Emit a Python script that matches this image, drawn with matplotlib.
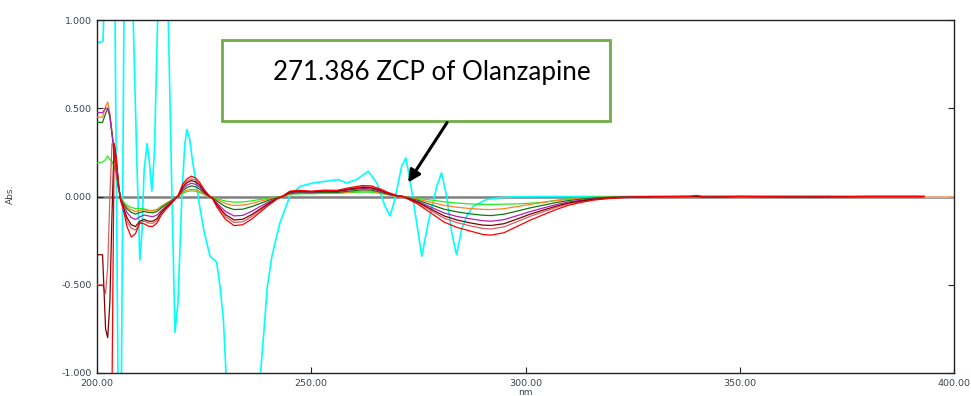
import matplotlib
matplotlib.use("Agg")
import matplotlib.pyplot as plt
from matplotlib.patches import Rectangle

# Shared wavelength grid (nm) for the first-derivative spectra
wavelength = [200, 201.3, 202, 202.5, 203, 203.5, 204, 204.5, 205, 205.5,
              206, 207, 208, 209, 210, 211, 212, 213, 214, 215,
              216, 217, 218, 219, 220, 221, 222, 223, 224, 225,
              226, 227, 228, 230, 232, 234, 236, 238, 240, 242,
              243.5, 245, 247, 250, 253, 256, 259, 262, 264, 266,
              268, 270, 271.4, 273, 275, 278, 281, 284, 287, 290,
              292, 295, 298, 301, 304, 307, 310, 313, 316, 320,
              325, 330, 338, 340, 342, 350, 365, 380, 393]

abs_green = [0.19, 0.195, 0.21, 0.23, 0.21, 0.2, 0.17, 0.12, 0.05, 0.0,
             -0.025, -0.05, -0.062, -0.068, -0.068, -0.07, -0.078, -0.08, -0.072, -0.055,
             -0.04, -0.026, -0.01, 0.003, 0.018, 0.028, 0.032, 0.03, 0.022, 0.011,
             0.002, -0.004, -0.013, -0.026, -0.032, -0.031, -0.025, -0.017, -0.01, -0.003,
             0.001, 0.013, 0.015, 0.016, 0.018, 0.018, 0.022, 0.025, 0.024, 0.018,
             0.009, 0.002, 0.0, -0.006, -0.012, -0.02, -0.03, -0.037, -0.042, -0.045,
             -0.045, -0.043, -0.042, -0.038, -0.033, -0.022, -0.013, -0.006, -0.003, -0.001,
             0.0, 0.0, 0.0, 0.0, 0.0, 0.0, 0.0, 0.0, 0.0]

abs_orange = [0.45, 0.45, 0.51, 0.535, 0.47, 0.37, 0.26, 0.15, 0.05, -0.01,
              -0.03, -0.06, -0.075, -0.085, -0.078, -0.075, -0.08, -0.082, -0.075, -0.058,
              -0.042, -0.028, -0.011, 0.003, 0.023, 0.036, 0.04, 0.037, 0.028, 0.014,
              0.003, -0.005, -0.018, -0.04, -0.051, -0.049, -0.04, -0.027, -0.015, -0.005,
              0.001, 0.015, 0.018, 0.018, 0.02, 0.02, 0.026, 0.031, 0.03, 0.022,
              0.011, 0.002, 0.0, -0.007, -0.016, -0.033, -0.05, -0.061, -0.068, -0.073,
              -0.074, -0.069, -0.057, -0.045, -0.034, -0.024, -0.016, -0.01, -0.006, -0.003,
              -0.001, 0.0, 0.0, 0.0, 0.0, 0.0, 0.0, 0.0, 0.0]
orange_tail_nm = [393, 400]
orange_tail = [0.0, 0.0]

abs_darkgreen = [0.42, 0.42, 0.47, 0.50, 0.46, 0.36, 0.25, 0.15, 0.05, -0.01,
                 -0.035, -0.07, -0.09, -0.10, -0.09, -0.085, -0.09, -0.092, -0.085, -0.065,
                 -0.048, -0.032, -0.013, 0.004, 0.032, 0.051, 0.06, 0.055, 0.04, 0.02,
                 0.004, -0.007, -0.026, -0.058, -0.074, -0.072, -0.058, -0.04, -0.022, -0.007,
                 0.002, 0.018, 0.022, 0.021, 0.024, 0.023, 0.031, 0.038, 0.036, 0.026,
                 0.013, 0.003, 0.0, -0.01, -0.022, -0.047, -0.072, -0.087, -0.098, -0.106,
                 -0.108, -0.1, -0.083, -0.065, -0.05, -0.035, -0.023, -0.015, -0.009, -0.004,
                 -0.002, 0.0, 0.0, 0.0, 0.0, 0.0, 0.0, 0.0, 0.0]

abs_magenta = [0.475, 0.475, 0.50, 0.50, 0.45, 0.35, 0.24, 0.15, 0.05, -0.01,
               -0.04, -0.09, -0.12, -0.13, -0.115, -0.105, -0.11, -0.115, -0.105, -0.08,
               -0.058, -0.038, -0.016, 0.005, 0.042, 0.064, 0.075, 0.069, 0.051, 0.025,
               0.005, -0.01, -0.038, -0.085, -0.11, -0.107, -0.085, -0.058, -0.032, -0.01,
               0.003, 0.022, 0.027, 0.025, 0.029, 0.028, 0.038, 0.045, 0.043, 0.031,
               0.015, 0.003, 0.0, -0.013, -0.029, -0.061, -0.093, -0.113, -0.126, -0.137,
               -0.14, -0.131, -0.109, -0.086, -0.066, -0.047, -0.031, -0.021, -0.012, -0.006,
               -0.002, -0.001, 0.0, 0.0, 0.0, 0.0, 0.0, 0.0, 0.0]

abs_maroon = [-0.33, -0.33, -0.75, -0.8, -0.6, -0.1, 0.3, 0.21, 0.07, -0.02,
              -0.05, -0.12, -0.16, -0.17, -0.14, -0.13, -0.14, -0.14, -0.125, -0.09,
              -0.065, -0.043, -0.02, 0.006, 0.052, 0.078, 0.09, 0.083, 0.062, 0.03,
              0.006, -0.012, -0.047, -0.103, -0.133, -0.129, -0.104, -0.072, -0.04, -0.012,
              0.003, 0.025, 0.03, 0.027, 0.031, 0.03, 0.042, 0.051, 0.049, 0.036,
              0.018, 0.004, 0.0, -0.015, -0.034, -0.072, -0.11, -0.133, -0.149, -0.162,
              -0.164, -0.154, -0.128, -0.101, -0.078, -0.056, -0.037, -0.025, -0.015, -0.007,
              -0.003, -0.001, 0.0, 0.0, -0.004, 0.0, -0.003, 0.0, 0.0]

abs_rosy = [-0.5, -0.5, -0.55, -0.4, 0.0, 0.3, 0.3, 0.2, 0.07, -0.02,
            -0.06, -0.14, -0.18, -0.19, -0.15, -0.14, -0.15, -0.152, -0.135, -0.095,
            -0.068, -0.045, -0.02, 0.008, 0.06, 0.088, 0.10, 0.093, 0.07, 0.035,
            0.008, -0.013, -0.052, -0.115, -0.147, -0.143, -0.115, -0.08, -0.045, -0.013,
            0.004, 0.027, 0.032, 0.028, 0.033, 0.032, 0.045, 0.056, 0.054, 0.04,
            0.02, 0.005, 0.0, -0.017, -0.038, -0.08, -0.123, -0.148, -0.166, -0.181,
            -0.184, -0.172, -0.143, -0.113, -0.088, -0.063, -0.042, -0.028, -0.017, -0.008,
            -0.003, -0.001, 0.0, 0.0, 0.0, 0.0, 0.0, 0.0, 0.0]

abs_red = [-1.3, -1.3, -1.3, -1.3, -1.3, -1.1, 0.30, 0.22, 0.08, -0.02,
           -0.06, -0.17, -0.23, -0.21, -0.15, -0.155, -0.168, -0.17, -0.15, -0.105,
           -0.075, -0.05, -0.02, 0.01, 0.07, 0.10, 0.115, 0.105, 0.078, 0.04,
           0.01, -0.015, -0.06, -0.13, -0.165, -0.16, -0.13, -0.09, -0.05, -0.015,
           0.005, 0.03, 0.035, 0.03, 0.036, 0.035, 0.05, 0.062, 0.06, 0.044,
           0.022, 0.006, 0.0, -0.02, -0.045, -0.095, -0.145, -0.175, -0.195, -0.215,
           -0.219, -0.205, -0.17, -0.135, -0.105, -0.075, -0.05, -0.033, -0.02, -0.01,
           -0.004, -0.002, 0.0, 0.006, -0.005, 0.0, -0.004, 0.0, 0.0]

# Noisy blank/solvent trace
cyan_nm = [200, 201.4, 202.2, 203.2, 204.2, 204.9, 205.3, 205.7, 206.3, 207.3,
           208.4, 209.3, 210.0, 210.5, 211.0, 211.7, 212.2, 212.8, 213.4, 214.2,
           215.4, 216.6, 217.4, 218.2, 218.9, 219.8, 220.5, 221.0, 221.6, 222.3,
           223.3, 224.0, 225.0, 225.8, 226.4, 227.9, 228.7, 229.5, 230.2, 234.0,
           238.0, 239.0, 239.7, 240.8, 242.7, 245.0, 247.4, 250.5, 253.6, 256.3,
           258.3, 260.6, 263.3, 265.3, 267.2, 268.4, 269.5, 271.1, 272.1, 273.4,
           274.6, 275.8, 277.3, 279.3, 280.4, 281.6, 282.8, 283.9, 285.1, 286.3,
           287.8, 290.9, 294.0, 297.2, 305, 320, 340, 371]
cyan_abs = [0.87, 0.88, 1.5, 2.0, 1.05, -1.05, -1.6, -1.05, 1.05, 1.6,
            1.05, 0.2, -0.36, -0.2, 0.15, 0.30, 0.2, 0.03, 0.25, 1.05,
            1.6, 1.05, 0.1, -0.77, -0.6, 0.0, 0.3, 0.38, 0.33, 0.2,
            0.05, -0.06, -0.2, -0.28, -0.34, -0.37, -0.51, -0.7, -1.05, -1.6,
            -1.05, -0.75, -0.52, -0.34, -0.149, 0.002, 0.058, 0.077, 0.087, 0.096,
            0.077, 0.096, 0.143, 0.077, -0.055, -0.11, -0.017, 0.172, 0.219, 0.04,
            -0.149, -0.338, -0.149, 0.058, 0.134, 0.002, -0.206, -0.33, -0.187, -0.11,
            -0.055, -0.017, -0.007, -0.002, 0.0, 0.0, 0.0, 0.0]

x_ticks = [200, 250, 300, 350, 400]
x_tick_labels = ["200.00", "250.00", "300.00", "350.00", "400.00"]
y_ticks = [-1.0, -0.5, 0.0, 0.5, 1.0]
y_tick_labels = ["-1.000", "-0.500", "0.000", "0.500", "1.000"]

zcp_value = 271.386
annotation_text = f"{zcp_value} ZCP of Olanzapine"

label_color = "#3c4450"

fig = plt.figure(figsize=(9.71, 3.96), dpi=100)
ax = fig.add_axes([97 / 971, 23 / 396, 857 / 971, 353 / 396])

ax.axhline(0, color="#808080", lw=1.8, zorder=1)

ax.plot(cyan_nm, cyan_abs, color="#00ffff", lw=1.2, zorder=2)
ax.plot(orange_tail_nm, orange_tail, color="#ffb080", lw=1.2, zorder=2)

series = [
    (abs_green, "#22ee22"),
    (abs_orange, "#ff8020"),
    (abs_darkgreen, "#107810"),
    (abs_magenta, "#b020b0"),
    (abs_rosy, "#d86060"),
    (abs_maroon, "#800000"),
    (abs_red, "#ff0000"),
]
for values, color in series:
    ax.plot(wavelength, values, color=color, lw=0.9, zorder=3)

ax.set_xlim(200, 400)
ax.set_ylim(-1, 1)
ax.set_xticks(x_ticks)
ax.set_xticklabels(x_tick_labels)
ax.set_yticks(y_ticks)
ax.set_yticklabels(y_tick_labels)
ax.tick_params(direction="in", length=4, width=0.8, labelsize=6.8,
               labelcolor=label_color, color="#222222", right=True, pad=4)

for spine in ax.spines.values():
    spine.set_linewidth(1.0)
    spine.set_color("#222222")

ax.set_ylabel("Abs.", fontsize=6.5, color=label_color)
ax.yaxis.set_label_coords(-0.0957, 0.507)
ax.set_xlabel("nm", fontsize=6.5, color=label_color)
ax.xaxis.set_label_coords(0.5, -0.042)

# Callout box with arrow pointing to the zero-crossing point
box = Rectangle((229.2, 0.425), 319.7 - 229.2, 0.889 - 0.425,
                facecolor="white", edgecolor="#70ad47", lw=2.0, zorder=5)
ax.add_patch(box)
ax.text(241.1, 0.70, annotation_text, fontsize=18.7, family="Lato",
        ha="left", va="center", color="black", zorder=6)
ax.annotate("", xy=(272.6, 0.079), xytext=(281.7, 0.419),
            arrowprops=dict(arrowstyle="-|>", color="black", lw=2.2,
                            mutation_scale=18, shrinkA=0, shrinkB=0),
            zorder=6)

fig.savefig("out.png", dpi=100)
